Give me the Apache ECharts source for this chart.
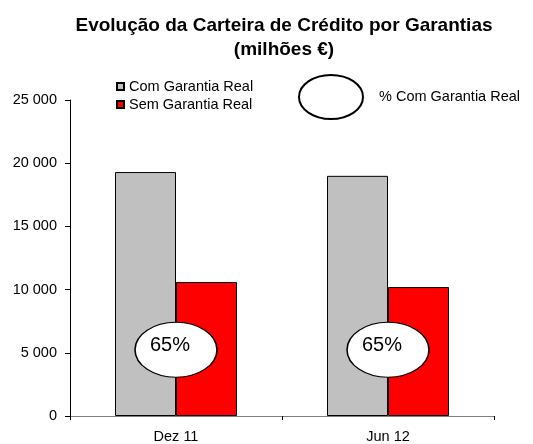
<!DOCTYPE html>
<html>
<head>
<meta charset="utf-8">
<script src="https://cdn.jsdelivr.net/npm/echarts@6/dist/echarts.min.js"></script>
<style>
  html, body { margin: 0; padding: 0; background: #fff; }
  #chart { width: 533px; height: 444px; }
</style>
</head>
<body>
<div id="chart"></div>
<script>
// dados (milhões €)
const categorias = ['Dez 11', 'Jun 12'];
const comGarantia = [19300, 19000];
const semGarantia = [10600, 10200];
const pctComGarantia = [65, 65];
const yTicks = [0, 5000, 10000, 15000, 20000, 25000];

const fonte = '"Liberation Sans", Arial, sans-serif';
// elipse para o ícone da legenda (o 'circle' fica sempre redondo)
const elipse = 'path://M0,50 A50,50 0 1,1 100,50 A50,50 0 1,1 0,50 Z';

let myChart = echarts.init(document.getElementById('chart'));
let option = {
    backgroundColor: '#fff',
    animation: false,
    textStyle: { fontFamily: fonte, color: '#000' },
    title: {
        text: 'Evolução da Carteira de Crédito por Garantias\n(milhões €)',
        left: 284,
        top: 14,
        padding: 0,
        textAlign: 'center',
        textStyle: {
            fontFamily: fonte,
            fontSize: 19,
            fontWeight: 'bold',
            color: '#000',
            lineHeight: 24
        }
    },
    legend: [{
        data: ['Com Garantia Real', 'Sem Garantia Real'],
        orient: 'vertical',
        left: 116,
        top: 79,
        padding: 0,
        itemWidth: 7,
        itemHeight: 7,
        itemGap: 3,
        icon: 'rect',
        textStyle: { fontFamily: fonte, fontSize: 14.5, color: '#000' }
    }, {
        data: ['% Com Garantia Real'],
        left: 298,
        top: 74,
        padding: 0,
        itemWidth: 64,
        itemHeight: 44,
        symbolKeepAspect: false,
        icon: elipse,
        textStyle: { fontFamily: fonte, fontSize: 14.5, color: '#000', padding: [0, 0, 0, 11] }
    }],
    grid: {
        left: 70,
        right: 39,
        top: 100,
        bottom: 28
    },
    xAxis: {
        type: 'category',
        data: categorias,
        axisLine: { lineStyle: { color: '#808080', width: 1 } },
        axisTick: { show: true, length: 4, lineStyle: { color: '#000' } },
        axisLabel: { fontFamily: fonte, fontSize: 14.5, color: '#000', margin: 13 }
    },
    yAxis: [{
        type: 'value',
        min: 0,
        max: 25000,
        interval: 5000,
        axisLine: { show: true, lineStyle: { color: '#000', width: 1 } },
        axisTick: { show: true, length: 5, lineStyle: { color: '#000' } },
        splitLine: { show: false },
        axisLabel: {
            fontFamily: fonte,
            fontSize: 14.5,
            color: '#000',
            margin: 13,
            formatter: function (v) {
                return yTicks.indexOf(v) >= 0 ? String(v).replace(/\B(?=(\d{3})+(?!\d))/g, ' ') : '';
            }
        }
    }, {
        type: 'value',
        min: 0,
        max: 310,
        show: false
    }],
    series: [{
        name: 'Com Garantia Real',
        type: 'bar',
        data: comGarantia,
        barWidth: 61,
        barGap: 0,
        itemStyle: { color: '#C0C0C0', borderColor: '#000', borderWidth: 1 }
    }, {
        name: 'Sem Garantia Real',
        type: 'bar',
        data: semGarantia,
        barWidth: 61,
        barGap: 0,
        itemStyle: { color: '#FF0000', borderColor: '#000', borderWidth: 1 }
    }, {
        name: '% Com Garantia Real',
        type: 'scatter',
        yAxisIndex: 1,
        data: pctComGarantia,
        symbol: 'circle',
        symbolSize: [82, 55],
        z: 5,
        itemStyle: { color: '#fff', borderColor: '#000', borderWidth: 1.3, opacity: 1 },
        label: {
            show: true,
            position: 'inside',
            offset: [-6, -4],
            fontFamily: fonte,
            fontSize: 20,
            color: '#000',
            formatter: function (p) { return p.value + '%'; }
        }
    }]
};
myChart.setOption(option);
</script>
</body>
</html>
